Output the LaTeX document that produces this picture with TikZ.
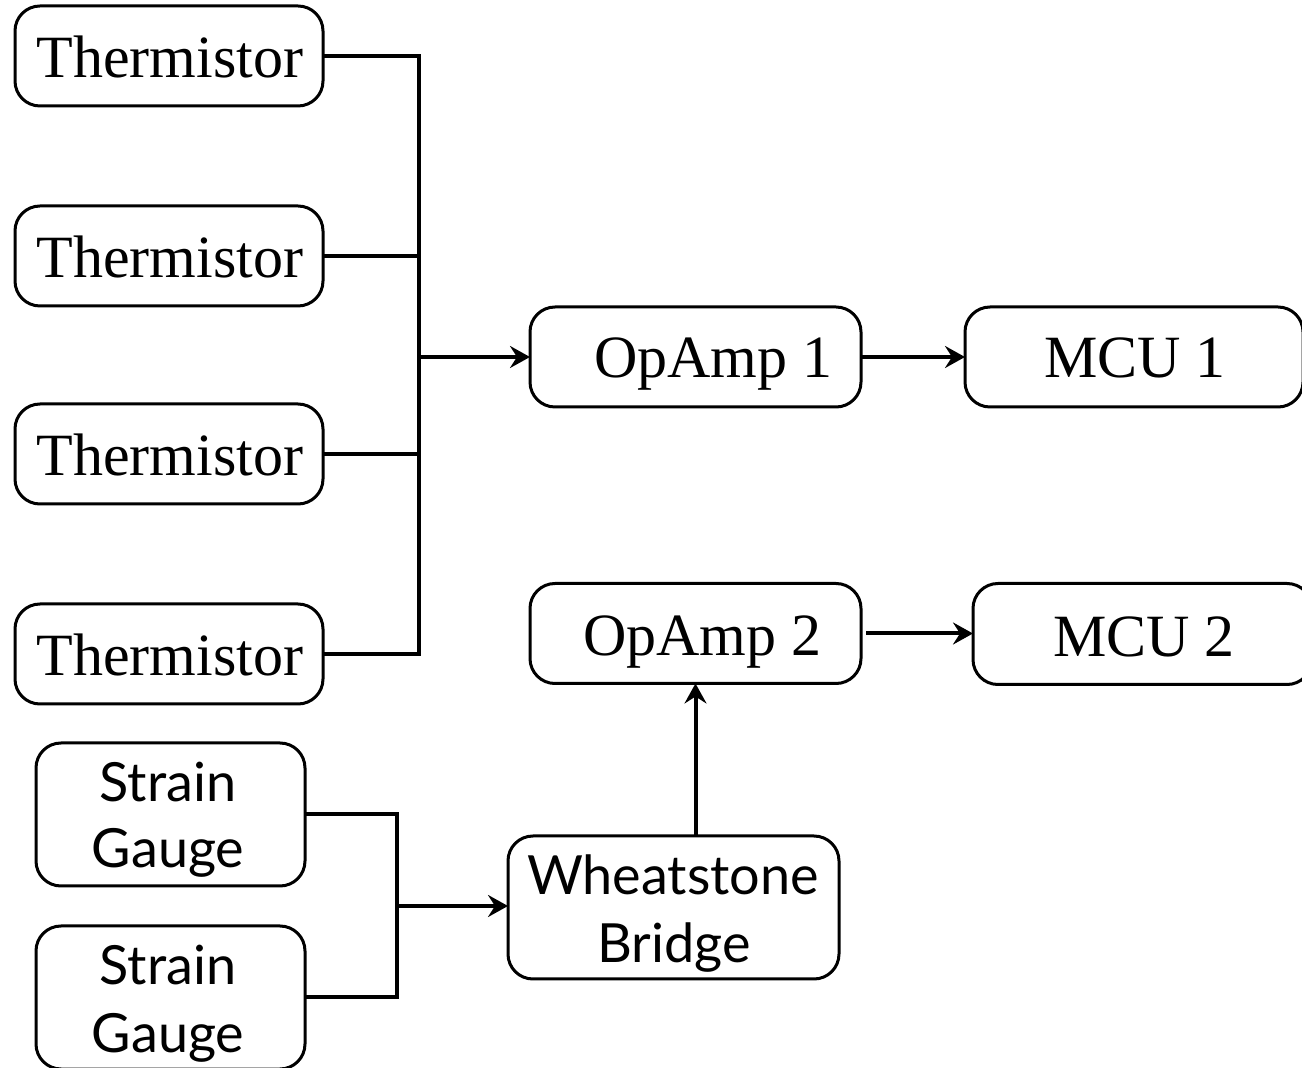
\documentclass[tikz,border=0pt]{standalone}
\usepackage{fontspec}
\setmainfont{Liberation Serif}
\newfontfamily\gillsub{Lato}
\usetikzlibrary{arrows.meta}
\begin{document}
\begin{tikzpicture}[x=0.5pt,y=-0.5pt,
  box/.style={draw, line width=1.5pt, rounded corners=12.5pt, inner sep=0pt, outer sep=0pt},
  tbox/.style={box, minimum width=154pt, minimum height=50pt},
  obox/.style={box, minimum width=165.5pt, minimum height=50pt},
  sbox/.style={box, minimum width=134.5pt, minimum height=71.5pt},
  serif/.style={font=\fontsize{30}{36}\selectfont, inner sep=0pt, anchor=base},
  sans/.style={font=\gillsub\fontsize{27}{33}\selectfont, inner sep=0pt, anchor=base},
  conn/.style={line width=2pt},
  arr/.style={conn, -{Stealth[length=10pt, width=11pt, inset=3.5pt]}}
]
\useasboundingbox (0,0) rectangle (1302,1068);
\clip (0,0) rectangle (1302,1068);

% Thermistor boxes
\node[tbox] (T1) at (169,56) {};
\node[tbox] (T2) at (169,256) {};
\node[tbox] (T3) at (169,454) {};
\node[tbox] (T4) at (169,654) {};
\node[serif] (t1) at (170,78) {Thermistor};
\node[serif] (t2) at (170,278) {Thermistor};
\node[serif] (t3) at (170,476) {Thermistor};
\node[serif] (t4) at (170,676) {Thermistor};

% OpAmps and MCUs
\node[obox] (O1) at (695.5,357) {};
\node[obox] (O2) at (695.5,633.5) {};
\node[serif] (o1) at (713.5,378) {OpAmp 1};
\node[serif] (o2) at (702.5,656) {OpAmp 2};
\node[box, minimum width=169pt, minimum height=50pt] (M1) at (1134,357) {};
\node[box, minimum width=169.5pt, minimum height=50.5pt] (M2) at (1142.5,634) {};
\node[serif] (m1) at (1135,378) {MCU 1};
\node[serif] (m2) at (1144,657) {MCU 2};

% Strain gauges and bridge
\node[sbox] (S1) at (170.5,814.5) {};
\node[sbox] (S2) at (170.5,997.5) {};
\node[sbox, minimum width=165.5pt] (W) at (673.5,907.5) {};
\node[sans] (s1a) at (168,802) {Strain};
\node[sans] (s1b) at (168,868) {Gauge};
\node[sans] (s2a) at (168,985) {Strain};
\node[sans] (s2b) at (168,1052) {Gauge};
\node[sans] (w1) at (673,895) {Wheatstone};
\node[sans] (w2) at (674,963) {Bridge};

% connectors
\coordinate (j1) at (419,357);
\draw[conn] (T1.east) -| (j1);
\draw[conn] (T4.east) -| (j1);
\draw[conn] (T2.east) -- (T2.east -| j1);
\draw[conn] (T3.east) -- (T3.east -| j1);
\draw[arr] (j1) -- (O1.west);
\draw[arr] (O1.east) -- (M1.west);
\draw[arr] ([xshift=2.5pt]O2.east) -- (M2.west |- O2.east);

\coordinate (j2) at (397,906);
\draw[conn] (S1.east) -| (j2);
\draw[conn] (S2.east) -| (j2);
\draw[arr] (j2) -- (W.west |- j2);
\draw[arr] (W.north -| O2.south) -- (O2.south);
\end{tikzpicture}
\end{document}
